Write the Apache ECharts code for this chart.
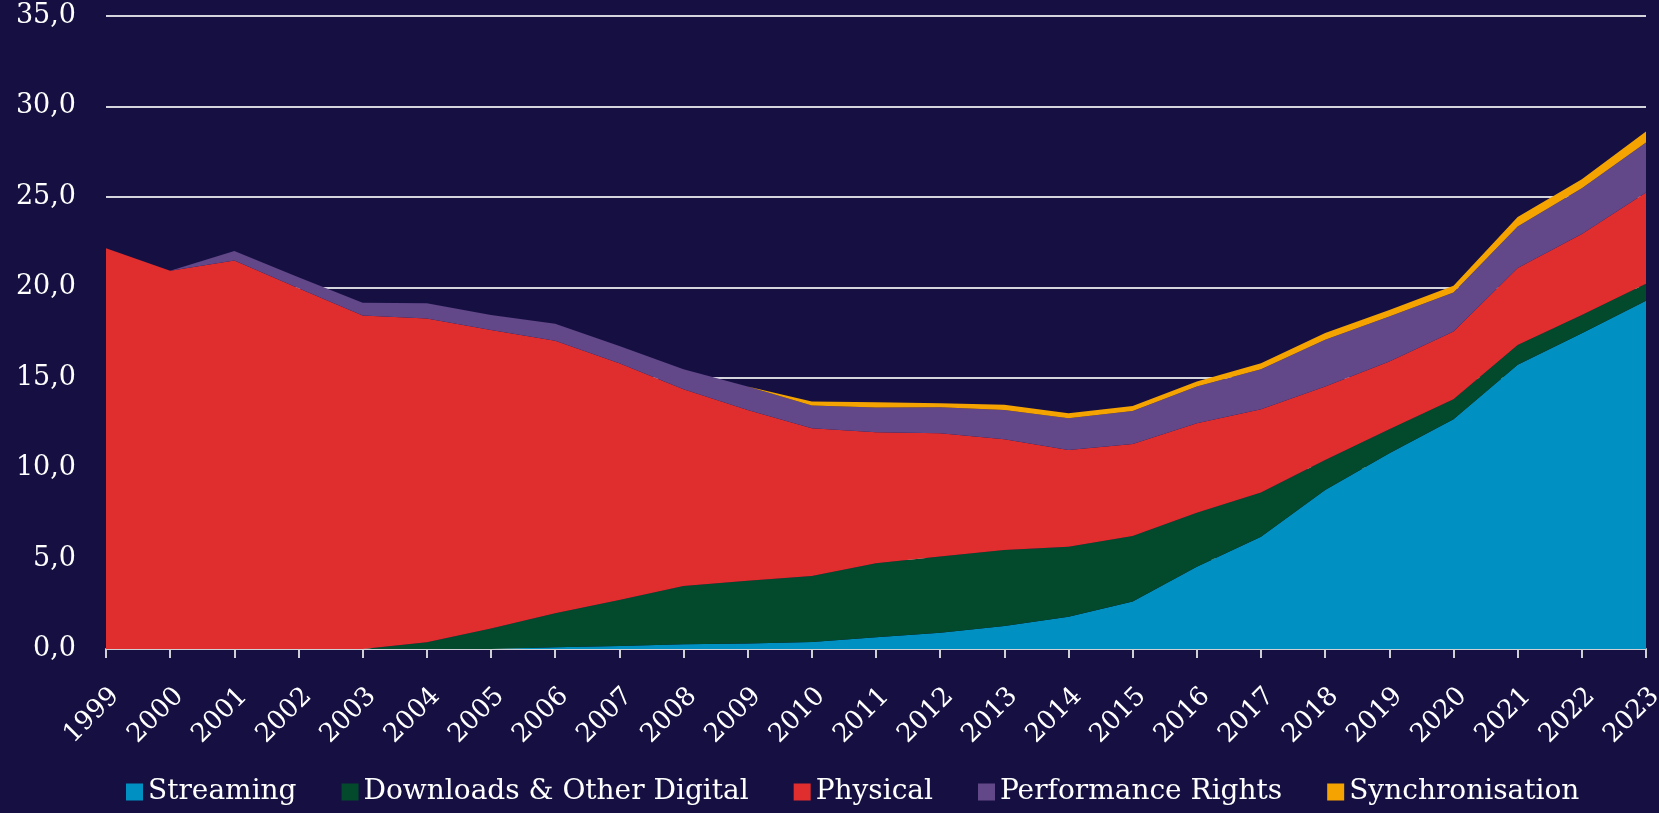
<!DOCTYPE html>
<html>
<head>
<meta charset="utf-8">
<title>Revenue by segment</title>
<script src="https://cdn.jsdelivr.net/npm/echarts/dist/echarts.min.js"></script>
<style>
  html, body { margin: 0; padding: 0; background: #161042; }
  #main { width: 1659px; height: 813px; }
</style>
</head>
<body>
<div id="main"></div>
<script>
var years = ['1999','2000','2001','2002','2003','2004','2005','2006','2007','2008','2009','2010',
  '2011','2012','2013','2014','2015','2016','2017','2018','2019','2020','2021','2022','2023'];

var streaming = [0, 0, 0, 0, 0, 0, 0, 0.09, 0.17, 0.26, 0.31, 0.39,
  0.65, 0.9, 1.27, 1.79, 2.62, 4.55, 6.21, 8.79, 10.82, 12.7, 15.71, 17.46, 19.26];
var downloads = [0, 0, 0, 0, 0, 0.37, 1.14, 1.88, 2.54, 3.22, 3.47, 3.65,
  4.09, 4.21, 4.21, 3.87, 3.63, 2.99, 2.44, 1.66, 1.33, 1.11, 1.1, 1.01, 0.93];
var physical = [22.16, 20.91, 21.48, 19.95, 18.44, 17.9, 16.5, 15.08, 13.09, 10.88, 9.44, 8.16,
  7.24, 6.82, 6.12, 5.34, 5.09, 4.94, 4.61, 4.07, 3.74, 3.74, 4.25, 4.47, 5.05];
var performance = [0, 0, 0.53, 0.61, 0.71, 0.85, 0.83, 0.93, 0.96, 1.11, 1.29, 1.26,
  1.37, 1.44, 1.62, 1.76, 1.82, 2.03, 2.21, 2.58, 2.49, 2.16, 2.3, 2.54, 2.76];
var sync = [0, 0, 0, 0, 0, 0, 0, 0, 0, 0, 0, 0.22,
  0.29, 0.22, 0.28, 0.27, 0.28, 0.28, 0.33, 0.37, 0.37, 0.37, 0.52, 0.5, 0.61];

var names = ['Streaming', 'Downloads & Other Digital', 'Physical', 'Performance Rights', 'Synchronisation'];
var colors = ['#0190c2', '#024a2b', '#e02d2e', '#624789', '#f5a300'];
var values = [streaming, downloads, physical, performance, sync];

var font = '"DejaVu Serif", Georgia, serif';

var series = names.map(function (n, i) {
  return {
    name: n,
    type: 'line',
    stack: 'total',
    data: values[i],
    symbol: 'none',
    lineStyle: { width: 0 },
    areaStyle: { color: colors[i], opacity: 1 },
    itemStyle: { color: colors[i] },
    emphasis: { disabled: true }
  };
});

var myChart = echarts.init(document.getElementById('main'));
myChart.setOption({
  backgroundColor: '#161042',
  animation: false,
  color: colors,
  grid: { left: 106, right: 13, top: 16, bottom: 164, outerBoundsMode: 'none' },
  legend: {
    data: names,
    left: 126,
    top: 778,
    padding: 0,
    itemWidth: 17,
    itemHeight: 17,
    itemGap: 45,
    icon: 'rect',
    textStyle: { color: '#ffffff', fontFamily: font, fontSize: 28, lineHeight: 28 }
  },
  xAxis: {
    type: 'category',
    data: years,
    boundaryGap: false,
    axisLine: { lineStyle: { color: '#cfcfd6', width: 2 } },
    axisTick: { alignWithLabel: true, length: 9, lineStyle: { color: '#cfcfd6', width: 2 } },
    axisLabel: {
      rotate: 45,
      interval: 0,
      margin: 34,
      verticalAlign: 'top',
      color: '#ffffff',
      fontFamily: font,
      fontSize: 26
    }
  },
  yAxis: {
    type: 'value',
    min: 0,
    max: 35,
    interval: 5,
    axisLine: { show: false },
    axisTick: { show: false },
    splitLine: { lineStyle: { color: '#d4d4dc', width: 2 } },
    axisLabel: {
      margin: 30,
      color: '#ffffff',
      fontFamily: font,
      fontSize: 27,
      formatter: function (v) { return v.toFixed(1).replace('.', ','); }
    }
  },
  series: series
});
</script>
</body>
</html>
